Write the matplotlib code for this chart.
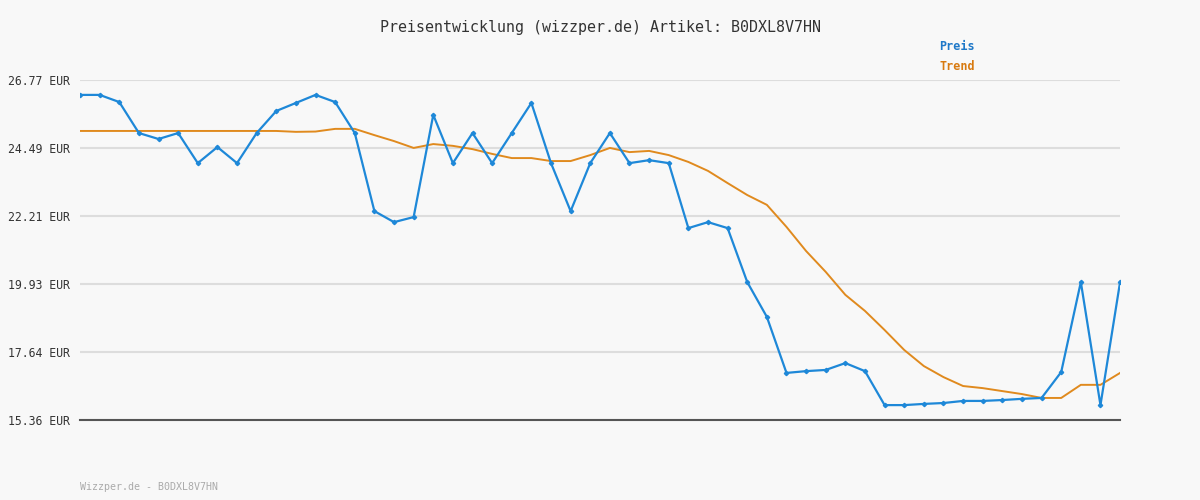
import matplotlib
matplotlib.use("Agg")
import matplotlib.pyplot as plt
import numpy as np

title = "Preisentwicklung (wizzper.de) Artikel: B0DXL8V7HN"
footer = "Wizzper.de - B0DXL8V7HN"
yticks = [15.36, 17.64, 19.93, 22.21, 24.49, 26.77]

preis = [26.27, 26.27, 26.03, 24.99, 24.79, 24.99, 23.98, 24.52, 23.98, 24.99,
         25.73, 26.0, 26.27, 26.03, 24.99, 22.37, 22.0, 22.17, 25.6, 23.98,
         24.99, 23.98, 24.99, 26.0, 23.98, 22.37, 23.98, 24.99, 23.98, 24.08,
         23.98, 21.8, 22.0, 21.8, 19.99, 18.82, 16.94, 17.0, 17.04, 17.27,
         17.0, 15.86, 15.86, 15.9, 15.93, 16.0, 16.0, 16.03, 16.07, 16.1,
         16.97, 19.99, 15.86, 19.99]
trend = [25.06] * 11 + [25.03, 25.04,
         25.13, 25.13, 24.92, 24.72, 24.49, 24.62, 24.56, 24.45, 24.29, 24.15,
         24.15, 24.05, 24.05, 24.25, 24.49, 24.35, 24.39, 24.25, 24.02, 23.72,
         23.31, 22.91, 22.58, 21.84, 21.03, 20.33, 19.56, 19.02, 18.38, 17.71,
         17.17, 16.8, 16.5, 16.43, 16.33, 16.23, 16.1, 16.1, 16.54, 16.54, 16.94]

x = np.arange(len(preis))
plt.rcParams["font.family"] = ["DejaVu Sans Mono"]

fig = plt.figure(figsize=(12, 5), dpi=100, facecolor="#f8f8f8")
ax = fig.add_axes([0.0667, 0.16, 0.8667, 0.68], facecolor="#f8f8f8")

for t in yticks:
    ax.axhline(t, color="#dddddd", linewidth=1.5, zorder=0)
ax.plot(x, trend, color="#e08a1e", linewidth=1.4, zorder=2)
ax.plot(x, preis, color="#1e88d8", linewidth=1.6, marker="D", markersize=2.2, zorder=3)

ax.set_xlim(0, len(preis) - 1)
ax.set_ylim(yticks[0], yticks[-1])
ax.set_yticks(yticks)
ax.set_yticklabels([f"{t:.2f} EUR" for t in yticks], fontsize=8.3, color="#333333")
ax.set_xticks([])
ax.tick_params(axis="y", length=0, pad=7)
for s in ["top", "right", "left"]:
    ax.spines[s].set_visible(False)
ax.spines["bottom"].set_color("#555555")
ax.spines["bottom"].set_linewidth(1.5)

fig.text(0.5, 0.945, title, ha="center", va="center", fontsize=10.8, color="#333333")
fig.text(0.783, 0.907, "Preis", fontsize=8.5, fontweight="bold", color="#1e78c8", va="center")
fig.text(0.783, 0.866, "Trend", fontsize=8.5, fontweight="bold", color="#d87a10", va="center")
fig.text(0.0667, 0.026, footer, fontsize=7.2, color="#aaaaaa", va="center")

fig.savefig("out.png", dpi=100, facecolor=fig.get_facecolor())
